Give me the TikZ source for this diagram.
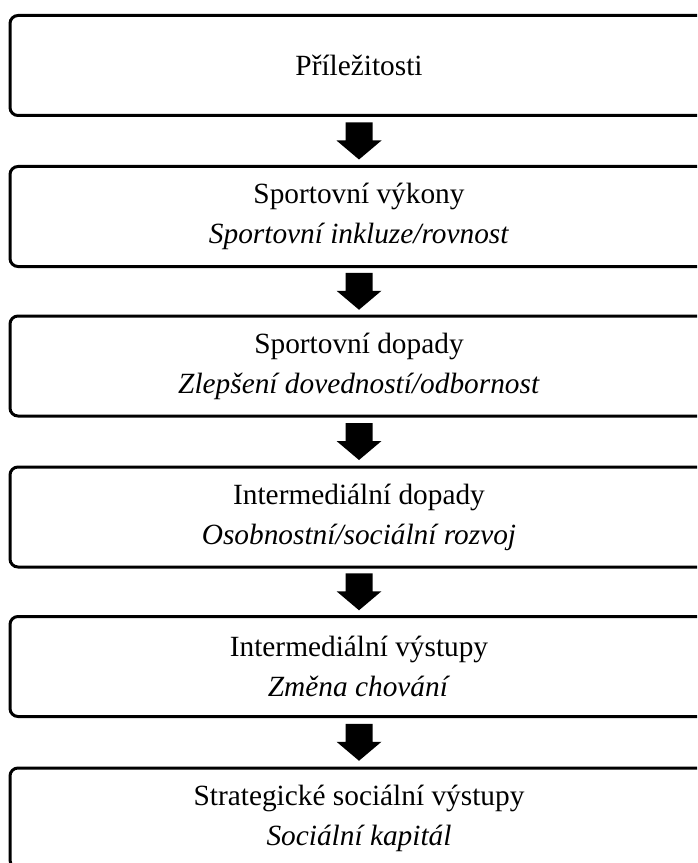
\documentclass[tikz,border=0pt]{standalone}
\usepackage{fontspec}
\setmainfont{Liberation Serif}
\usetikzlibrary{calc}
\begin{document}
\begin{tikzpicture}[x=0.75pt,y=-0.75pt,
  stage/.style={draw=black,line width=2.25pt,rounded corners=6pt,
    minimum width=523.5pt,minimum height=75pt,inner sep=0pt,
    align=center,font=\fontsize{22pt}{30pt}\selectfont},
  blockarrow/.style={fill=black}]
\useasboundingbox (0,0) rectangle (697,863);
\clip (0,0) rectangle (697,863);
\node[stage] (s1) at (359,65.5) {Příležitosti};
\node[stage] (s2) at (359,216.5) {Sportovní výkony\\\textit{Sportovní inkluze/rovnost}};
\node[stage] (s3) at (359,366) {Sportovní dopady\\\textit{Zlepšení dovedností/odbornost}};
\node[stage] (s4) at (359,517) {Intermediální dopady\\\textit{Osobnostní/sociální rozvoj}};
\node[stage] (s5) at (359,666.5) {Intermediální výstupy\\\textit{Změna chování}};
\node[stage] (s6) at (359,818) {Strategické sociální výstupy\\\textit{Sociální kapitál}};
\foreach \a/\b in {s1/s2,s2/s3,s3/s4,s4/s5,s5/s6}{
  \path (\a.south) -- (\b.north) coordinate[midway] (m\a);
  \fill[blockarrow] ($(m\a)+(-13.5,-18.5)$) -- ++(27,0) -- ++(0,18) -- ++(9,0)
    -- ++(-22.5,19) -- ++(-22.5,-19) -- ++(9,0) -- cycle;
}
\end{tikzpicture}
\end{document}
